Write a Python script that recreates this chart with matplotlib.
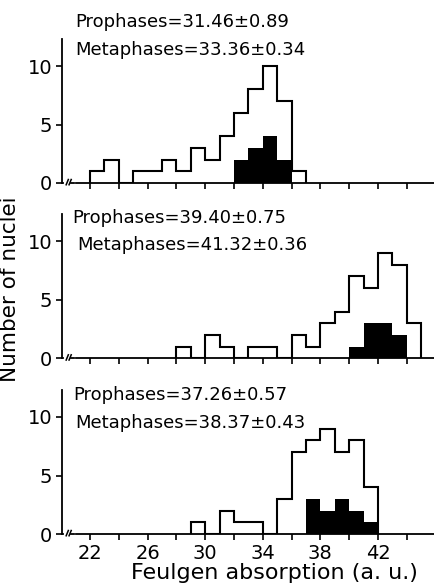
import matplotlib
matplotlib.use("Agg")
import matplotlib.pyplot as plt
import numpy as np

# ---- data ----
edges_top = list(range(22, 38))
total_top = [1, 2, 0, 1, 1, 2, 1, 3, 2, 4, 6, 8, 10, 7, 1]
edges_top_meta = list(range(32, 37))
meta_top = [2, 3, 4, 2]

edges_mid = list(range(28, 46))
total_mid = [1, 0, 2, 1, 0, 1, 1, 0, 2, 1, 3, 4, 7, 6, 9, 8, 3]
edges_mid_meta = list(range(40, 45))
meta_mid = [1, 3, 3, 2]

edges_bot = list(range(29, 43))
total_bot = [1, 0, 2, 1, 1, 0, 3, 7, 8, 9, 7, 8, 4]
edges_bot_meta = list(range(37, 43))
meta_bot = [3, 2, 3, 2, 1]

texts = [
    ("Prophases=31.46\u00b10.89", "Metaphases=33.36\u00b10.34"),
    ("Prophases=39.40\u00b10.75", "Metaphases=41.32\u00b10.36"),
    ("Prophases=37.26\u00b10.57", "Metaphases=38.37\u00b10.43"),
]
xtick_vals = list(range(22, 46, 2))
xtick_labels = ["22", "", "26", "", "30", "", "34", "", "38", "", "42", ""]
ytick_vals = [0, 5, 10]

panels = [
    (edges_top, total_top, edges_top_meta, meta_top),
    (edges_mid, total_mid, edges_mid_meta, meta_mid),
    (edges_bot, total_bot, edges_bot_meta, meta_bot),
]

W, H = 435, 586
fig = plt.figure(figsize=(W / 100, H / 100), dpi=100)
plt.rcParams['font.family'] = ['DejaVu Sans']

bottoms_px = [183, 358.3, 534]
ylim_top = 12.3
unit_px = 11.7
h_px = ylim_top * unit_px
left_px = 62
xmin, xmax = 20.06, 45.96

text_pos = [
    ((75, 21.7), (75, 50)),
    ((72, 218), (77, 245)),
    ((73, 395), (75, 423)),
]

for i, (e, tot, em, met) in enumerate(panels):
    b = bottoms_px[i]
    ax = fig.add_axes([left_px / W, 1 - b / H, 1 - left_px / W, h_px / H])
    ax.set_xlim(xmin, xmax)
    ax.set_ylim(0, ylim_top)
    ax.stairs(met, em, fill=True, color='black', lw=0)
    ax.stairs(tot, e, fill=False, color='black', lw=1.5, baseline=0)
    for s in ['top', 'right']:
        ax.spines[s].set_visible(False)
    ax.spines['left'].set_linewidth(1.3)
    ax.spines['bottom'].set_linewidth(1.3)
    ax.set_yticks(ytick_vals)
    ax.set_yticklabels([str(v) for v in ytick_vals], fontsize=14)
    ax.set_xticks(xtick_vals)
    if i == 2:
        ax.set_xticklabels(xtick_labels, fontsize=14)
    else:
        ax.set_xticklabels([""] * len(xtick_vals))
    ax.tick_params(axis='both', direction='out', length=4, width=1.2, pad=3)
    # axis break mark
    ax.plot([20.35, 20.85], [0, 0], color='white', lw=3, clip_on=False, zorder=5)
    ax.plot([20.35, 20.5], [-0.15, 0.3], color='black', lw=1.1, clip_on=False, zorder=6)
    ax.plot([20.55, 20.7], [-0.15, 0.3], color='black', lw=1.1, clip_on=False, zorder=6)
    ax.plot([20.7, 20.9], [0, 0], color='black', lw=1.3, clip_on=False, zorder=6)
    (p1, p2) = text_pos[i]
    for (xp, yp), t in zip((p1, p2), texts[i]):
        fig.text(xp / W, 1 - yp / H, t, fontsize=13, ha='left', va='center')

fig.text(274 / W, 1 - 573 / H, "Feulgen absorption (a. u.)", fontsize=16,
         ha='center', va='center')
fig.text(10 / W, 1 - 289 / H, "Number of nuclei", rotation=90, fontsize=15.5,
         ha='center', va='center')

fig.savefig("out.png", dpi=100)
